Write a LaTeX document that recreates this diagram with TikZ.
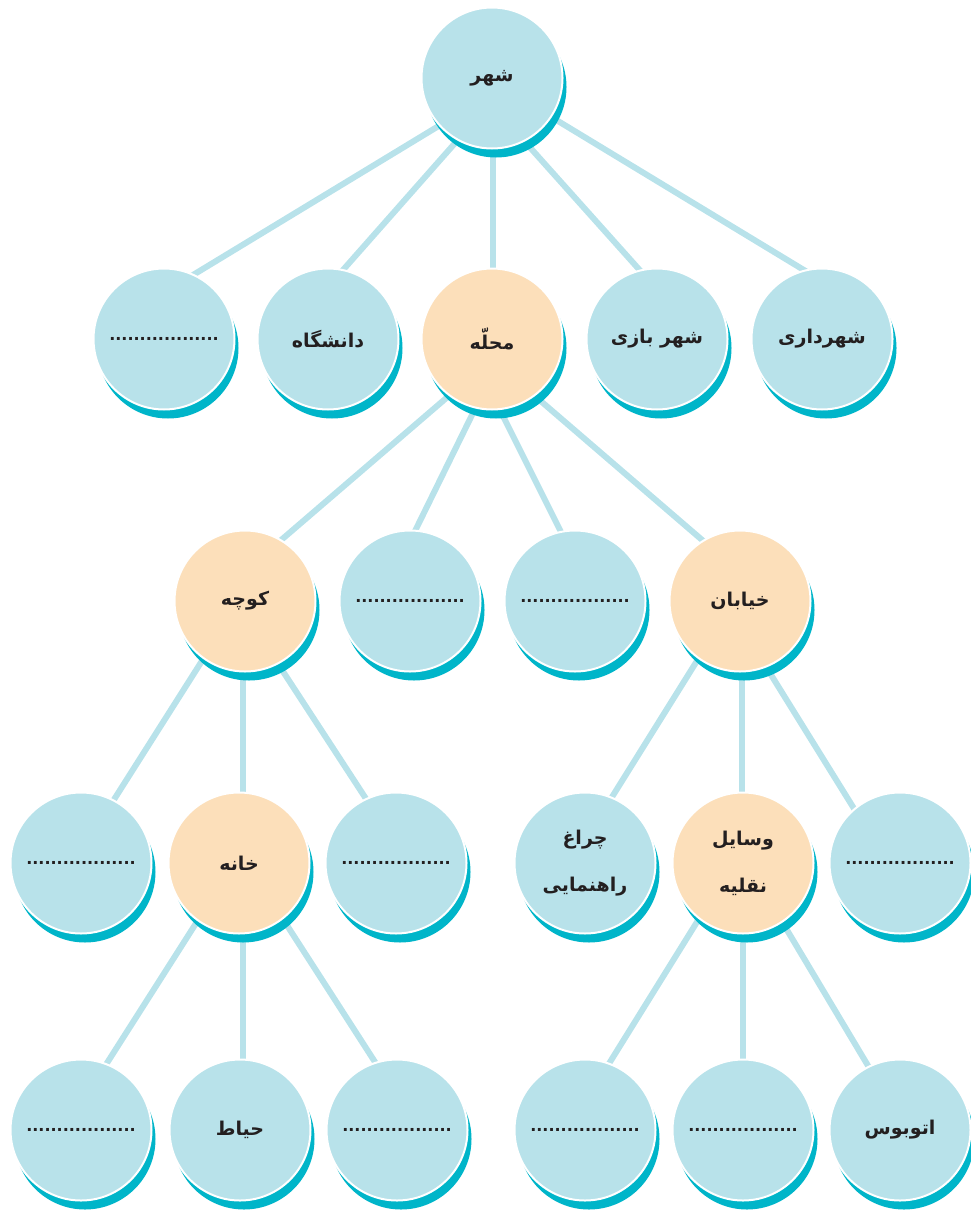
\documentclass[tikz,border=0pt]{standalone}
\usepackage{fontspec}
\newfontfamily\fa[Script=Arabic]{DejaVu Sans}
\TeXXeTstate=1
\usetikzlibrary{calc,shadows}
\definecolor{cfill}{HTML}{B8E2EA}
\definecolor{cshadow}{HTML}{00B5C9}
\definecolor{corange}{HTML}{FCDFBA}
\definecolor{ctext}{HTML}{231F20}
\newcommand\blankdots{{\fontsize{16}{16}\selectfont\fa\bfseries ..................}}
\pgfdeclarelayer{bg}
\pgfsetlayers{bg,main}
\tikzset{
  bub/.style={circle, minimum size=141pt, inner sep=0pt, fill=cfill, draw=white, line width=2pt,
    font=\fontsize{19}{47}\selectfont\fa\bfseries, align=center, text=ctext,
    drop shadow={shadow xshift=4pt, shadow yshift=-9pt, fill=cshadow, opacity=1}},
  obub/.style={bub, fill=corange},
  word/.style={yshift=3pt},
  link/.style={draw=cfill, line width=6pt, shorten <=-10pt, shorten >=-10pt},
}
\begin{document}
\begin{tikzpicture}[x=1pt,y=-1pt]
\useasboundingbox (0,0) rectangle (971,1212);
% level 1
\node[bub] (top) at (492,78) {\beginR شهر\endR};
% level 2
\node[bub] (c1) at (164,339) {\blankdots};
\node[bub] (c2) at (328,339) {\beginR دانشگاه\endR};
\node[obub] (c3) at (492,339) {\beginR محلّه\endR};
\node[bub] (c4) at (657,339) {\beginR شهر بازی\endR};
\node[bub] (c5) at (822,339) {\beginR شهرداری\endR};
% level 3
\node[obub] (k) at (245,601) {\beginR کوچه\endR};
\node[bub] (d1) at (410,601) {\blankdots};
\node[bub] (d2) at (575,601) {\blankdots};
\node[obub] (kh) at (740,601) {\beginR خیابان\endR};
% level 4
\node[bub] (e1) at (81,863) {\blankdots};
\node[obub] (khane) at (239,863) {\beginR خانه\endR};
\node[bub] (e2) at (396,863) {\blankdots};
\node[bub] (ch) at (585,863) {\beginR چراغ\endR\\\beginR راهنمایی\endR};
\node[obub] (va) at (743,863) {\beginR وسایل\endR\\\beginR نقلیه\endR};
\node[bub] (e3) at (900,863) {\blankdots};
% level 5
\node[bub] (f1) at (81,1130) {\blankdots};
\node[bub] (hay) at (240,1130) {\beginR حیاط\endR};
\node[bub] (f2) at (397,1130) {\blankdots};
\node[bub] (f3) at (585,1130) {\blankdots};
\node[bub] (f4) at (743,1130) {\blankdots};
\node[bub] (bus) at (900,1130) {\beginR اتوبوس\endR};
% connectors
\begin{pgfonlayer}{bg}
\draw[link] ($(top)+(-55,49)$) -- ($(c1)+(29,-64)$);
\draw[link] ($(top)+(-36,64)$) -- ($(c2)+(15,-69)$);
\draw[link] ($(top)+(1,80)$) -- ($(c3)+(1,-72)$);
\draw[link] ($(top)+(34,65)$) -- ($(c4)+(-16.5,-68)$);
\draw[link] ($(top)+(61,40)$) -- ($(c5)+(-16.5,-68)$);
\draw[link] ($(c3)+(-48,61)$) -- ($(k)+(38.5,-63)$);
\draw[link] ($(c3)+(-21,78)$) -- ($(d1)+(7,-74)$);
\draw[link] ($(c3)+(13,81)$) -- ($(d2)+(-15.5,-72)$);
\draw[link] ($(c3)+(51,64)$) -- ($(kh)+(-39,-62)$);
\draw[link] ($(k)+(-45,63)$) -- ($(e1)+(34,-65)$);
\draw[link] ($(k)+(-2,80)$) -- ($(khane)+(4,-72)$);
\draw[link] ($(k)+(39,72)$) -- ($(e2)+(-30.5,-65)$);
\draw[link] ($(kh)+(-45,63)$) -- ($(ch)+(27,-66)$);
\draw[link] ($(kh)+(2,80)$) -- ($(va)+(-1,-72)$);
\draw[link] ($(kh)+(33,77)$) -- ($(e3)+(-47,-56)$);
\draw[link] ($(khane)+(-46,65)$) -- ($(f1)+(26,-67)$);
\draw[link] ($(khane)+(4,80)$) -- ($(hay)+(3,-71)$);
\draw[link] ($(khane)+(51,67)$) -- ($(f2)+(-22,-68)$);
\draw[link] ($(va)+(-51,67)$) -- ($(f3)+(25,-68)$);
\draw[link] ($(va)+(0,80)$) -- ($(f4)+(0,-71)$);
\draw[link] ($(va)+(44,67)$) -- ($(bus)+(-33,-66)$);
\end{pgfonlayer}
\end{tikzpicture}
\end{document}
